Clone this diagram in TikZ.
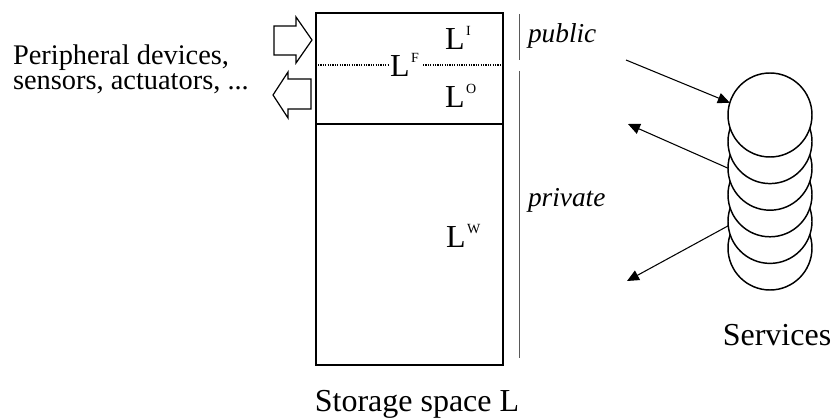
\documentclass[tikz,border=0pt]{standalone}
\usepackage{fontspec}
\setmainfont{Liberation Serif}
\usetikzlibrary{arrows.meta}
\newcommand{\supL}[1]{L\kern1.2pt\raisebox{11pt}{\fontsize{10.5}{10.5}\selectfont #1}}
\begin{document}
\begin{tikzpicture}[x=0.75pt,y=-0.75pt,
  lbl/.style={inner sep=0,outer sep=0},
  big/.style={lbl,font=\fontsize{24}{24}\selectfont},
  mid/.style={lbl,font=\fontsize{21.3}{18.75}\selectfont},
  side/.style={lbl,font=\fontsize{20.5}{20.5}\selectfont\itshape},
  svc/.style={draw,circle,line width=1.1pt,fill=white,minimum size=63pt,inner sep=0,outer sep=0},
  blockarrow/.style={draw,line width=0.9pt,line join=miter},
  arr/.style={draw,line width=0.8pt,-{Triangle[length=9pt,width=8pt]}},
  bar/.style={draw,line width=0.7pt,black!65}]
\useasboundingbox (0,0) rectangle (833,420);
% storage rectangle
\coordinate (tl) at (316,13);
\coordinate (br) at (503,365);
\draw[line width=1.5pt] (tl) rectangle (br);
\coordinate (dl) at (316,124);
\coordinate (dr) at (503,124);
\draw[line width=1.1pt] (dl) -- (dr);
% labels in the storage
\node[big,anchor=base west] (li) at (445,50) {\supL{I}};
\node[big,anchor=base west] (lo) at (445,108) {\supL{O}};
\node[big,anchor=base west] (lw) at (446,248) {\supL{W}};
\node[big,anchor=base west] (lf) at (390,77) {\supL{F}};
\coordinate (fl) at (318,65);
\coordinate (fr) at (502,65);
\coordinate (fm1) at (388,65);
\coordinate (fm2) at (423,65);
\draw[line width=0.9pt,dash pattern=on 0.9pt off 0.9pt] (fl) -- (fm1);
\draw[line width=0.9pt,dash pattern=on 0.9pt off 0.9pt] (fm2) -- (fr);
% block arrows
\draw[blockarrow] (274,26) -- (296,26) -- (296,17) -- (312,40) -- (296,63) -- (296,55) -- (274,55) -- cycle;
\draw[blockarrow] (311,79) -- (288,79) -- (288,72) -- (273,95) -- (288,118) -- (288,109) -- (311,109) -- cycle;
% peripheral text
\node[mid,anchor=base west,align=left] (p1) at (13,90) {Peripheral devices,\\sensors, actuators, ...};
% public / private bars
\coordinate (pb1) at (519,14);
\coordinate (pb2) at (519,60);
\coordinate (pv1) at (519,71);
\coordinate (pv2) at (519,358);
\draw[bar] (pb1) -- (pb2);
\draw[bar] (pv1) -- (pv2);
\node[side,anchor=base west] (pub) at (528,43) {public};
\node[side,anchor=base west] (priv) at (528,207) {private};
% services
\node[svc] (s6) at (770,248) {};
\node[svc] (s5) at (770,221.4) {};
\node[svc] (s4) at (770,194.8) {};
\node[svc] (s3) at (770,168.2) {};
\node[svc] (s2) at (770,141.6) {};
\node[svc] (s1) at (770,115) {};
\coordinate (a1) at (626,60);
\coordinate (a2) at (628,124);
\coordinate (a3) at (627,281);
\draw[arr] (a1) -- (s1.163);
\draw[arr] (s3.west) -- (a2);
\draw[arr] (s5.186) -- (a3);
\node[big,anchor=base] (svcl) at (777,346) {Services};
\node[big,anchor=base] (stl) at (417,412) {Storage space L};
\end{tikzpicture}
\end{document}
